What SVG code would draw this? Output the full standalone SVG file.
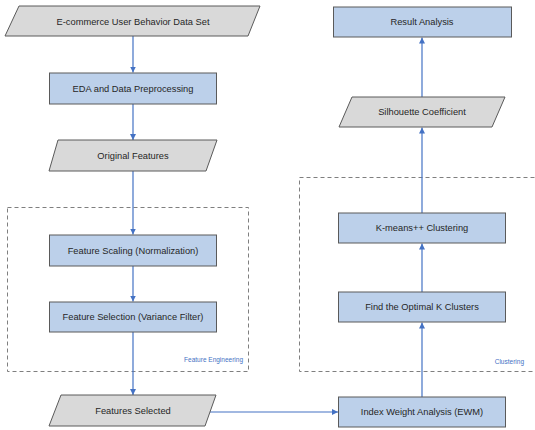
<svg xmlns="http://www.w3.org/2000/svg" width="535" height="430" viewBox="0 0 535 430">
<defs>
<marker id="ah" viewBox="0 0 10 10" refX="10" refY="5" markerWidth="5" markerHeight="5" orient="auto">
<path d="M0,0 L10,5 L0,10 z" fill="#4472C4"/>
</marker>
<style>
.box{fill:#BCD0EA;stroke:#5A5A5A;stroke-width:1}
.io{fill:#D9D9D9;stroke:#5A5A5A;stroke-width:1}
.t{font-family:"Liberation Sans",Arial,sans-serif;font-size:9.3px;fill:#262626;text-anchor:middle;dominant-baseline:central}
.grp{fill:none;stroke:#7F7F7F;stroke-width:1;stroke-dasharray:4,3}
.gl{font-family:"Liberation Sans",Arial,sans-serif;font-size:6.5px;fill:#4472C4;text-anchor:end}
.c{fill:none;stroke:#4472C4;stroke-width:1.2;marker-end:url(#ah)}
</style>
</defs>
<rect width="535" height="430" fill="#FFFFFF"/>
<g id="group-feature-engineering">
<rect class="grp" x="7.5" y="207.5" width="241" height="164"/>
<text class="gl" x="243" y="362">Feature Engineering</text>
</g>
<g id="group-clustering">
<rect class="grp" x="299.5" y="177.5" width="240" height="194"/>
<text class="gl" x="524" y="364">Clustering</text>
</g>
<g id="connectors">
<line class="c" x1="133" y1="36" x2="133" y2="72.5"/>
<line class="c" x1="133" y1="104" x2="133" y2="140"/>
<line class="c" x1="133" y1="171" x2="133" y2="234.5"/>
<line class="c" x1="133" y1="266" x2="133" y2="301.5"/>
<line class="c" x1="133" y1="332" x2="133" y2="395"/>
<line class="c" x1="210" y1="412" x2="338" y2="412"/>
<line class="c" x1="422" y1="397" x2="422" y2="322.5"/>
<line class="c" x1="422" y1="292" x2="422" y2="243.5"/>
<line class="c" x1="422" y1="213" x2="422" y2="127.5"/>
<line class="c" x1="422" y1="97" x2="422" y2="37.5"/>
</g>
<g id="n-dataset">
<polygon class="io" points="19,6 260,6 248,36 5,36"/>
<text class="t" x="133" y="21.5">E-commerce User Behavior Data Set</text>
</g>
<g id="n-eda">
<rect class="box" x="49.5" y="73" width="167" height="31"/>
<text class="t" x="133" y="88.5">EDA and Data Preprocessing</text>
</g>
<g id="n-original">
<polygon class="io" points="58,140 217,140 206,171 49,171"/>
<text class="t" x="133" y="155.5">Original Features</text>
</g>
<g id="n-scaling">
<rect class="box" x="49.5" y="235" width="167" height="31"/>
<text class="t" x="133" y="250.5">Feature Scaling (Normalization)</text>
</g>
<g id="n-selection">
<rect class="box" x="49.5" y="302" width="167" height="30"/>
<text class="t" x="133" y="317">Feature Selection (Variance Filter)</text>
</g>
<g id="n-selected">
<polygon class="io" points="61,395 216,395 205,426 49,426"/>
<text class="t" x="133" y="410.5">Features Selected</text>
</g>
<g id="n-ewm">
<rect class="box" x="338.5" y="397" width="167" height="30"/>
<text class="t" x="422" y="412">Index Weight Analysis (EWM)</text>
</g>
<g id="n-findk">
<rect class="box" x="338.5" y="292" width="167" height="30"/>
<text class="t" x="422" y="307">Find the Optimal K Clusters</text>
</g>
<g id="n-kmeans">
<rect class="box" x="338.5" y="213" width="167" height="30"/>
<text class="t" x="422" y="228">K-means++ Clustering</text>
</g>
<g id="n-silhouette">
<polygon class="io" points="352,97 505,97 492,127 339,127"/>
<text class="t" x="422" y="112">Silhouette Coefficient</text>
</g>
<g id="n-result">
<rect class="box" x="333.5" y="7" width="178" height="30"/>
<text class="t" x="422" y="22">Result Analysis</text>
</g>
</svg>
